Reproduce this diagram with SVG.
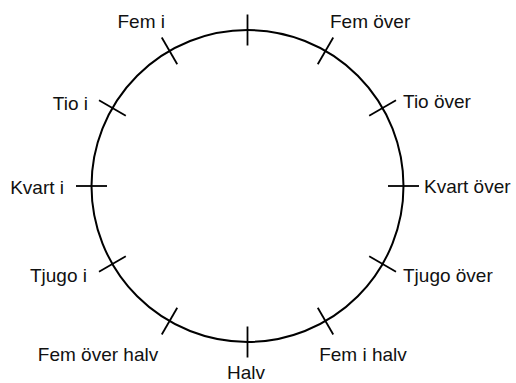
<svg xmlns="http://www.w3.org/2000/svg" width="516" height="383" viewBox="0 0 516 383">
<style>
.c{fill:none;stroke:#000;stroke-width:2}
.t{fill:none;stroke:#000;stroke-width:1.8}
text{font-family:"Liberation Sans",Arial,sans-serif;font-size:19px;fill:#111}
.e{text-anchor:end}
.m{text-anchor:middle}
</style>
<rect width="516" height="383" fill="#fff"/>
<g id="clock">
<circle class="c" cx="247.5" cy="186" r="156"/>
</g>
<g id="ticks">
<line class="t" x1="247.5" y1="14.5" x2="247.5" y2="45.5"/>
<line class="t" x1="317.75" y1="64.3" x2="333.25" y2="37.5"/>
<line class="t" x1="369.2" y1="115.75" x2="396" y2="100.25"/>
<line class="t" x1="388" y1="186" x2="419" y2="186"/>
<line class="t" x1="369.2" y1="256.25" x2="396" y2="271.75"/>
<line class="t" x1="317.75" y1="307.7" x2="333.25" y2="334.5"/>
<line class="t" x1="247.5" y1="326.5" x2="247.5" y2="357.5"/>
<line class="t" x1="177.25" y1="307.7" x2="161.75" y2="334.5"/>
<line class="t" x1="125.8" y1="256.25" x2="99" y2="271.75"/>
<line class="t" x1="107" y1="186" x2="76" y2="186"/>
<line class="t" x1="125.8" y1="115.75" x2="99" y2="100.25"/>
<line class="t" x1="177.25" y1="64.3" x2="161.75" y2="37.5"/>
</g>
<g id="labels">
<text id="fem-over" x="330" y="28">Fem över</text>
<text id="tio-over" x="403" y="108">Tio över</text>
<text id="kvart-over" x="424" y="193">Kvart över</text>
<text id="tjugo-over" x="403" y="282">Tjugo över</text>
<text id="fem-i-halv" class="m" x="363" y="361">Fem i halv</text>
<text id="halv" class="m" x="246" y="379">Halv</text>
<text id="fem-over-halv" class="m" x="98" y="361">Fem över halv</text>
<text id="tjugo-i" class="e" x="87" y="282">Tjugo i</text>
<text id="kvart-i" class="e" x="64" y="194">Kvart i</text>
<text id="tio-i" class="e" x="88" y="110">Tio i</text>
<text id="fem-i" class="e" x="165" y="28">Fem i</text>
</g>
</svg>
